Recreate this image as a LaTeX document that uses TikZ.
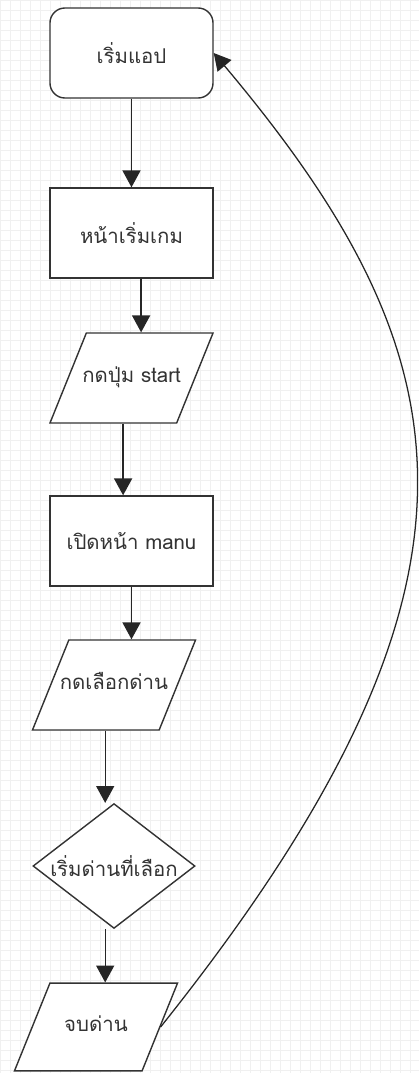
\documentclass[tikz,border=0pt]{standalone}
\usepackage{fontspec}
\newfontfamily\thaifont[Script=Thai]{Loma}
\usepackage{tikz}
\usetikzlibrary{shapes.geometric,arrows.meta}

\begin{document}
\begin{tikzpicture}[x=0.025cm,y=-0.025cm,
		box/.style={draw=black!80,line width=1pt,fill=white,minimum width=4.075cm,minimum height=2.25cm,text=black!80,font=\thaifont\fontsize{14.5}{16}\selectfont},
		io/.style={box,trapezium,trapezium left angle=68,trapezium right angle=112,trapezium stretches body=true,minimum height=0pt,inner xsep=1pt,text height=10pt,text depth=4pt,inner ysep=25pt},
		flow/.style={draw=black!85,line width=0.9pt,-{Triangle[width=0.45cm,length=0.42cm]}}]
		\useasboundingbox (0,0) rectangle (419,1073);
		% background grid
		\foreach \i in {0,10,...,1070} \draw[black!6] (0,\i) -- (419,\i);
		\foreach \i in {0,10,...,410} \draw[black!6] (\i,0) -- (\i,1073);
		
		\node[box,rounded corners=0.375cm] (app) at (131.5,53) {เริ่มแอป};
		\node[box] (home) at (131.5,233) {หน้าเริ่มเกม};
		\node[io] (start) at (131.5,378) {\makebox[0pt]{กดปุ่ม start}};
		\node[box] (menu) at (131.5,541) {เปิดหน้า manu};
		\node[io] (pick) at (114,685) {\makebox[0pt]{กดเลือกด่าน}};
		\node[box,diamond,aspect=1.3,minimum width=4.05cm,minimum height=3.12cm,inner sep=0pt] (play) at (114,866) {\makebox[0pt]{เริ่มด่านที่เลือก}};
		\node[io,inner ysep=24.2pt] (done) at (96,1027) {\makebox[0pt]{จบด่าน}};
		
		\path[every edge/.append style={flow}]
		(app)edge(home)
		([xshift=0.24cm]home.south)edge([xshift=0.24cm]home.south|-start.north)
		([xshift=-0.21cm]start.south)edge([xshift=-0.21cm]start.south|-menu.north)
		(menu.south)edge(menu.south|-pick.north)
		([xshift=-0.22cm]pick.south)edge([xshift=-0.22cm]pick.south|-play.north)
		([xshift=-0.22cm]play.south)edge([xshift=-0.22cm]play.south|-done.north);
		\draw[flow] (done.east) .. controls +(358,-448) and +(253,301) .. (app.east);
		\end{tikzpicture}
\end{document}
